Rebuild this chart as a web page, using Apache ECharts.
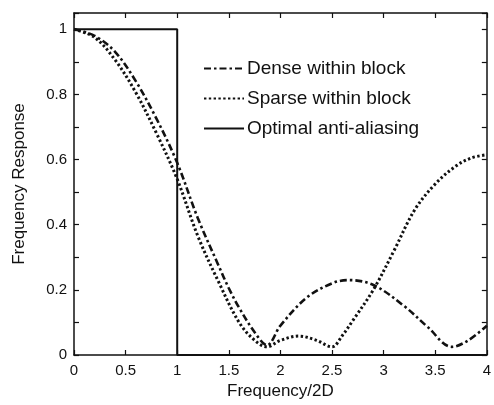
<!DOCTYPE html>
<html>
<head>
<meta charset="utf-8">
<script src="https://cdn.jsdelivr.net/npm/echarts@6/dist/echarts.min.js"></script>
<style>
  html, body { margin: 0; padding: 0; background: #fff; }
  #chart { width: 494px; height: 405px; }
</style>
</head>
<body>
<div id="chart"></div>
<script>
// values
const denseX = [0, 0.2, 0.4, 0.6, 0.8, 1.0, 1.2, 1.4, 1.5, 1.6, 1.75, 1.87, 2.0, 2.25, 2.5, 2.66, 2.9, 3.2, 3.43, 3.66, 3.82, 4.0];
const denseY = [1.0, 0.98, 0.93, 0.84, 0.725, 0.59, 0.42, 0.275, 0.205, 0.145, 0.07, 0.03, 0.09, 0.175, 0.22, 0.23, 0.215, 0.15, 0.085, 0.025, 0.045, 0.09];

const sparseX = [0, 0.2, 0.4, 0.6, 0.8, 1.0, 1.2, 1.4, 1.6, 1.75, 1.87, 2.0, 2.18, 2.35, 2.5, 2.6, 2.7, 2.9, 3.1, 3.3, 3.5, 3.7, 3.85, 4.0];
const sparseY = [1.0, 0.975, 0.905, 0.805, 0.68, 0.54, 0.365, 0.225, 0.1, 0.045, 0.025, 0.045, 0.058, 0.045, 0.025, 0.06, 0.105, 0.2, 0.32, 0.445, 0.525, 0.58, 0.605, 0.615];

const optimalX = [0, 1, 1, 4];
const optimalY = [1, 1, 0, 0];

const xTicks = [0, 0.5, 1, 1.5, 2, 2.5, 3, 3.5, 4];
const seriesNames = ['Dense within block', 'Sparse within block', 'Optimal anti-aliasing'];

const pairs = (xs, ys) => xs.map((x, i) => [x, ys[i]]);

const font = 'Arial, "Liberation Sans", Helvetica, sans-serif';
const black = '#111';

const frameAxis = {
  axisLine: { show: true, onZero: false, lineStyle: { color: black, width: 1.5 } },
  axisTick: { show: true, inside: true, length: 5, lineStyle: { color: black, width: 1.2 } },
  splitLine: { show: false },
};

const chart = echarts.init(document.getElementById('chart'));
chart.setOption({
  backgroundColor: '#fff',
  animation: false,
  color: [black, black, black],
  grid: { left: 74, right: 5, top: 13, bottom: 50 },
  legend: {
    orient: 'vertical',
    left: 198,
    top: 54,
    itemWidth: 40,
    itemHeight: 14,
    itemGap: 11,
    itemStyle: { opacity: 0 },
    textStyle: { fontFamily: font, fontSize: 19, color: black, padding: [0, 0, 0, -2] },
    data: seriesNames,
  },
  xAxis: [
    {
      ...frameAxis,
      type: 'value',
      min: 0,
      max: 4,
      interval: xTicks[1] - xTicks[0],
      position: 'bottom',
      name: 'Frequency/2D',
      nameLocation: 'middle',
      nameGap: 22,
      nameTextStyle: { fontFamily: font, fontSize: 17, color: black, verticalAlign: 'top' },
      axisLabel: {
        margin: 8,
        fontFamily: font,
        fontSize: 15,
        color: black,
        formatter: v => (xTicks.includes(v) ? String(v) : ''),
      },
    },
    {
      ...frameAxis,
      type: 'value',
      min: 0,
      max: 4,
      interval: 0.5,
      position: 'top',
      axisLabel: { show: false },
    },
  ],
  yAxis: [
    {
      ...frameAxis,
      type: 'value',
      min: 0,
      max: 1.05,
      interval: 0.1,
      position: 'left',
      name: 'Frequency Response',
      nameLocation: 'middle',
      nameGap: 46,
      nameTextStyle: { fontFamily: font, fontSize: 17, color: black },
      axisLabel: {
        margin: 7,
        fontFamily: font,
        fontSize: 15,
        color: black,
        formatter: v => {
          const k = Math.round(v * 10);
          if (Math.abs(v * 10 - k) > 1e-6 || k % 2 !== 0) return '';
          return String(k / 10);
        },
      },
    },
    {
      ...frameAxis,
      type: 'value',
      min: 0,
      max: 1.05,
      interval: 0.1,
      position: 'right',
      axisLabel: { show: false },
    },
  ],
  series: [
    {
      name: seriesNames[0],
      type: 'line',
      data: pairs(denseX, denseY),
      smooth: 0.35,
      symbol: 'none',
      lineStyle: { color: black, width: 2.6, type: [7, 3, 2.5, 3] },
      z: 3,
    },
    {
      name: seriesNames[1],
      type: 'line',
      data: pairs(sparseX, sparseY),
      smooth: 0.35,
      symbol: 'none',
      lineStyle: { color: black, width: 3, type: [2.4, 2.4] },
      z: 3,
    },
    {
      name: seriesNames[2],
      type: 'line',
      data: pairs(optimalX, optimalY),
      symbol: 'none',
      lineStyle: { color: black, width: 2 },
      z: 4,
    },
  ],
});
</script>
</body>
</html>
